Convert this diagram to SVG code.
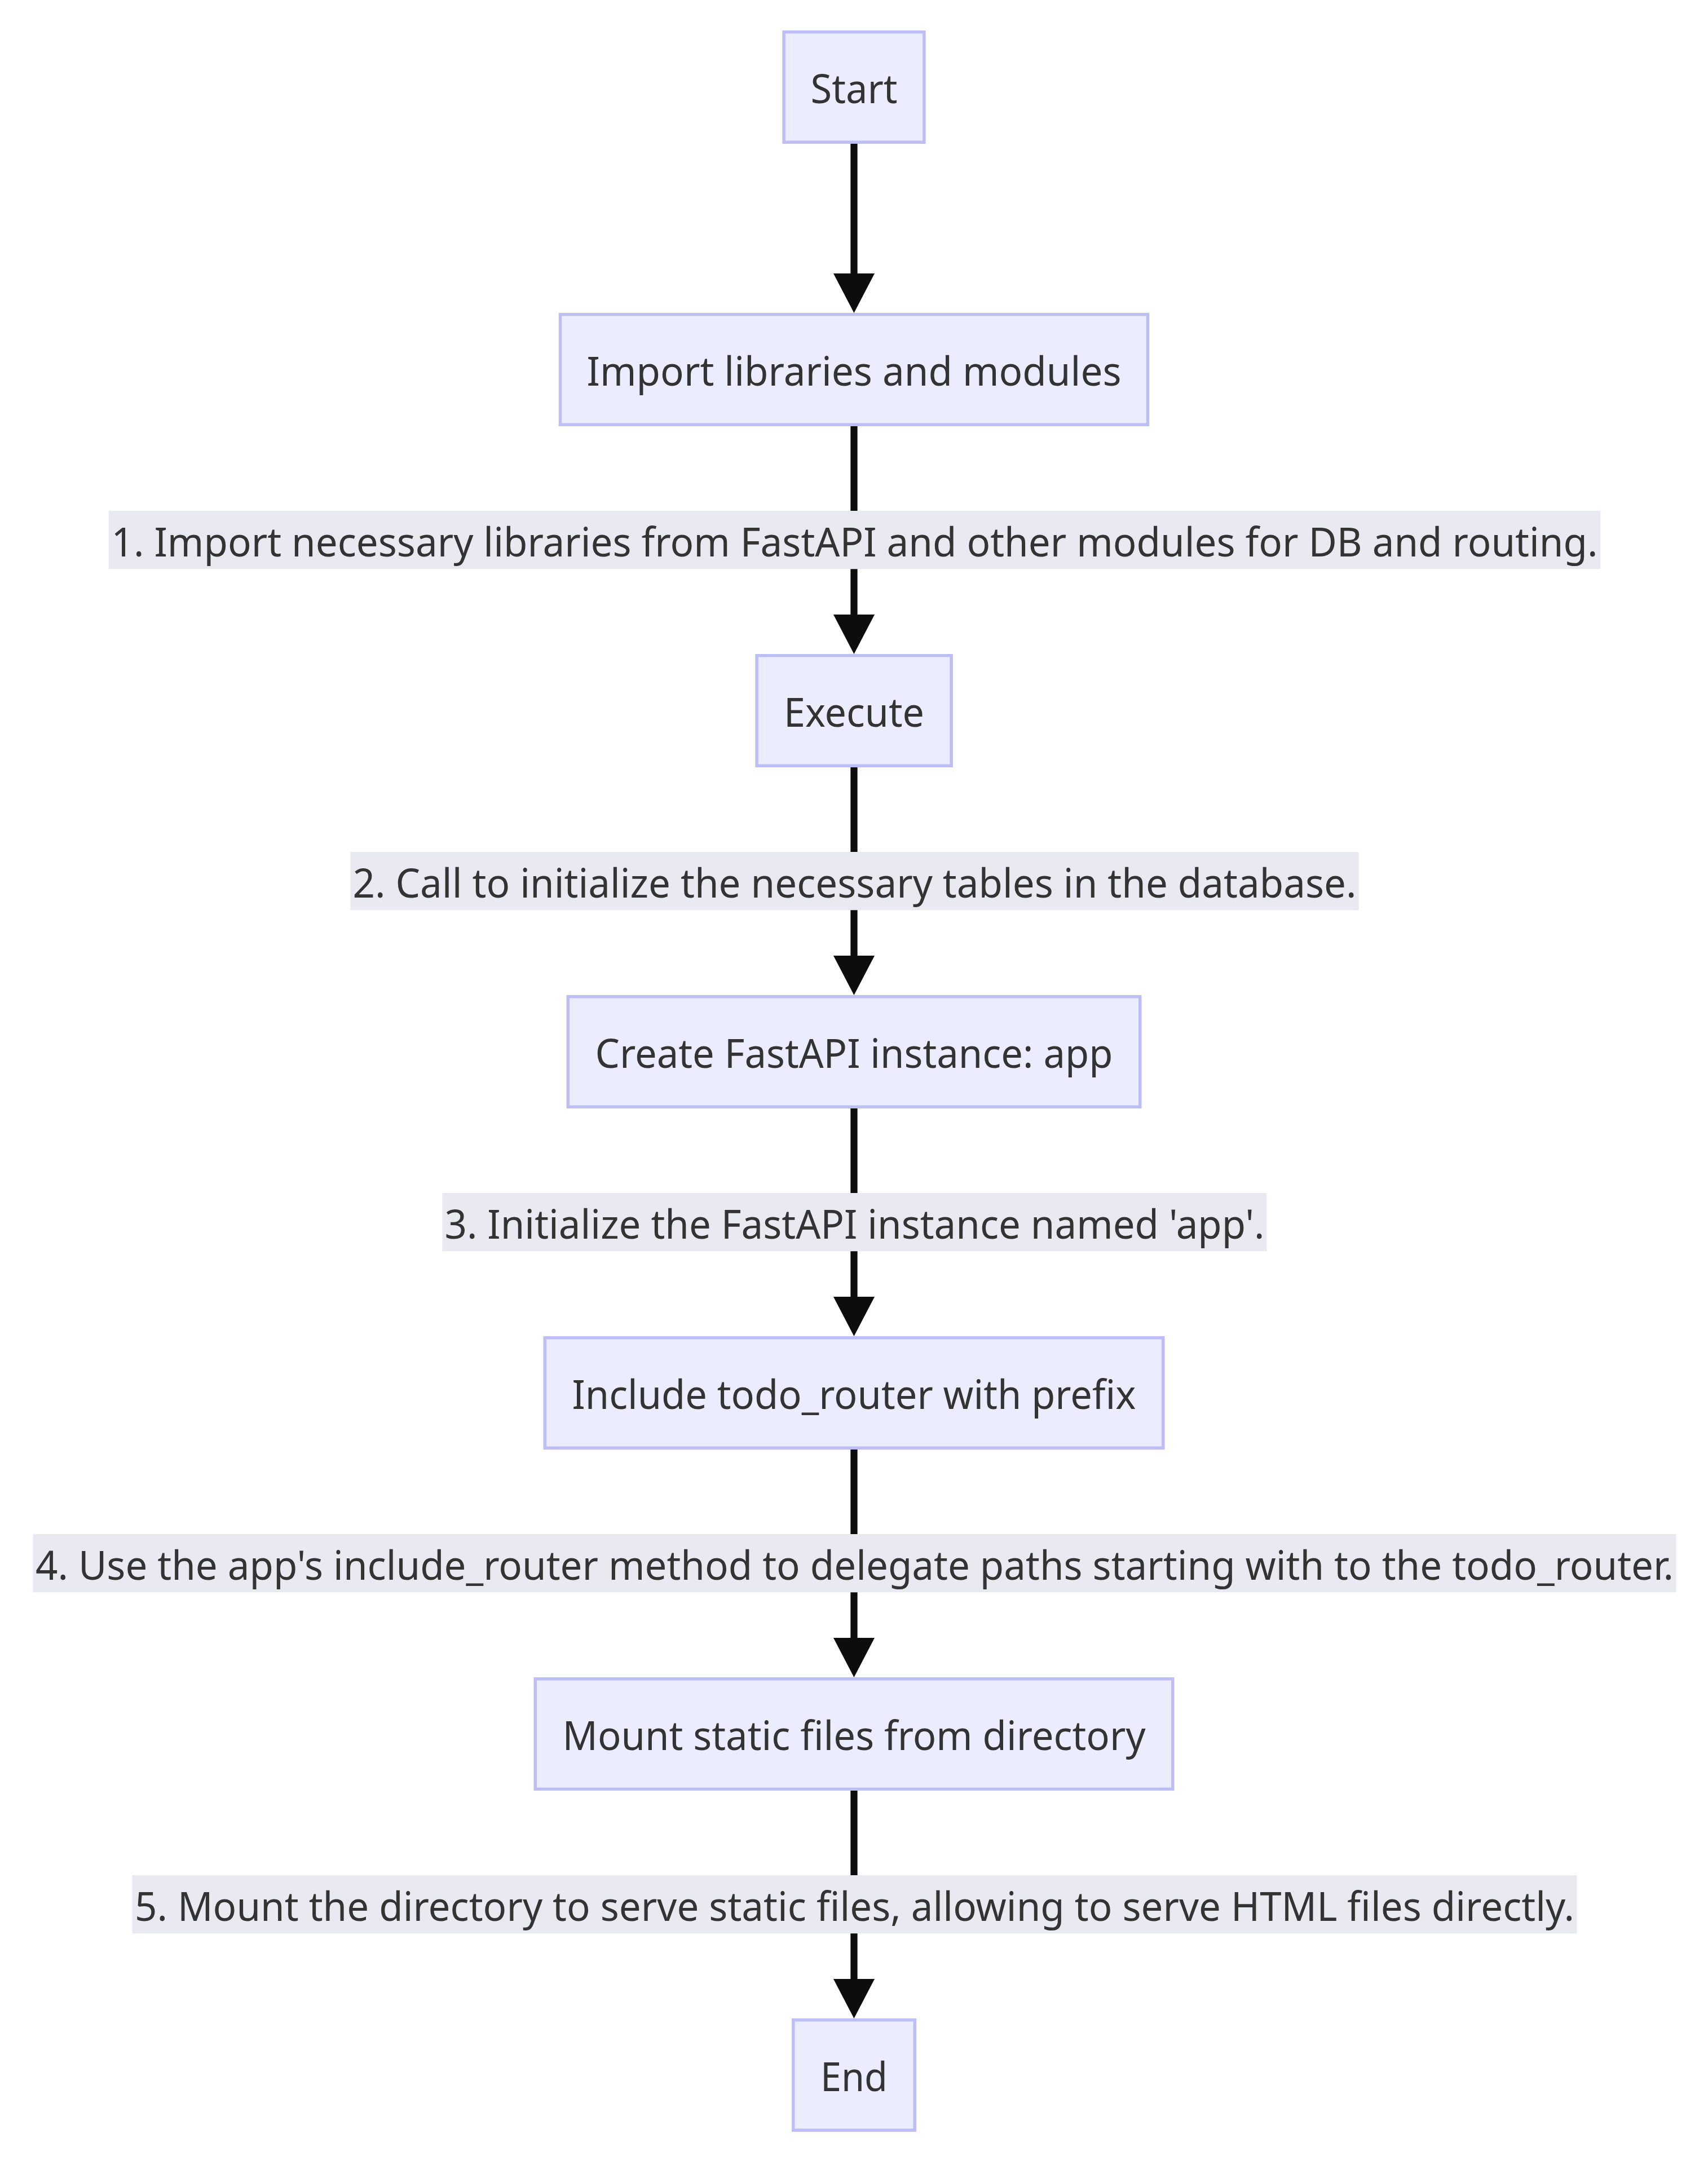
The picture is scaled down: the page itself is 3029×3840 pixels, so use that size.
<svg xmlns="http://www.w3.org/2000/svg" width="3029" height="3840" viewBox="0 0 3029 3840">
  <style>
    .node rect { fill: #ECECFF; stroke: #BEBEF6; stroke-width: 5.5; }
    .node text, .label text { font-family: "Noto Sans", "Open Sans", sans-serif; font-size: 72px; fill: #333333; text-anchor: middle; }
    .edge { fill: none; stroke: #0D0D0D; stroke-width: 12.3; }
    .label rect { fill: #E9E9F1; }
  </style>
  <defs>
    <marker id="arrow" markerUnits="userSpaceOnUse" viewBox="0 0 70 73" markerWidth="70" markerHeight="73" refX="10" refY="36.5" orient="auto">
      <path d="M0,0 L70,36.5 L0,73 Z" fill="#0D0D0D"/>
    </marker>
  </defs>
  <rect x="0" y="0" width="3029" height="3840" fill="#FFFFFF"/>

  <g id="connectors">
    <path class="edge" d="M1514.5,255 L1514.5,495" marker-end="url(#arrow)"/>
    <path class="edge" d="M1514.5,756 L1514.5,1100" marker-end="url(#arrow)"/>
    <path class="edge" d="M1514.5,1361 L1514.5,1705" marker-end="url(#arrow)"/>
    <path class="edge" d="M1514.5,1966 L1514.5,2310" marker-end="url(#arrow)"/>
    <path class="edge" d="M1514.5,2571 L1514.5,2915" marker-end="url(#arrow)"/>
    <path class="edge" d="M1514.5,3176 L1514.5,3520" marker-end="url(#arrow)"/>
  </g>

  <g id="edge-labels">
    <g class="label" id="label-1">
      <rect x="192.7" y="906" width="2645.6" height="103.3"/>
      <text x="1515.5" y="986.7" textLength="2636" lengthAdjust="spacingAndGlyphs">1. Import necessary libraries from FastAPI and other modules for DB and routing.</text>
    </g>
    <g class="label" id="label-2">
      <rect x="621.5" y="1511" width="1788" height="103.3"/>
      <text x="1515.5" y="1591.7" textLength="1780" lengthAdjust="spacingAndGlyphs">2. Call to initialize the necessary tables in the database.</text>
    </g>
    <g class="label" id="label-3">
      <rect x="784.5" y="2116" width="1462" height="103.3"/>
      <text x="1515.5" y="2196.7" textLength="1454" lengthAdjust="spacingAndGlyphs">3. Initialize the FastAPI instance named 'app'.</text>
    </g>
    <g class="label" id="label-4">
      <rect x="58.5" y="2721" width="2914" height="103.3"/>
      <text x="1515.5" y="2801.7" textLength="2905" lengthAdjust="spacingAndGlyphs">4. Use the app's include_router method to delegate paths starting with to the todo_router.</text>
    </g>
    <g class="label" id="label-5">
      <rect x="234.5" y="3326" width="2562" height="103.3"/>
      <text x="1515.5" y="3406.7" textLength="2553" lengthAdjust="spacingAndGlyphs">5. Mount the directory to serve static files, allowing to serve HTML files directly.</text>
    </g>
  </g>

  <g class="node" id="node-start">
    <rect x="1390.1" y="56.75" width="248.8" height="195.5"/>
    <text x="1514.5" y="183" textLength="154" lengthAdjust="spacingAndGlyphs">Start</text>
  </g>
  <g class="node" id="node-import">
    <rect x="993.5" y="557.75" width="1042" height="195.5"/>
    <text x="1514.5" y="684" textLength="948" lengthAdjust="spacingAndGlyphs">Import libraries and modules</text>
  </g>
  <g class="node" id="node-execute">
    <rect x="1342.1" y="1162.75" width="345.1" height="195.5"/>
    <text x="1514.5" y="1289" textLength="249" lengthAdjust="spacingAndGlyphs">Execute</text>
  </g>
  <g class="node" id="node-create">
    <rect x="1007.25" y="1767.75" width="1014.5" height="195.5"/>
    <text x="1514.5" y="1894" textLength="918" lengthAdjust="spacingAndGlyphs">Create FastAPI instance: app</text>
  </g>
  <g class="node" id="node-include">
    <rect x="966.25" y="2372.75" width="1096.5" height="195.5"/>
    <text x="1514.5" y="2499" textLength="1000" lengthAdjust="spacingAndGlyphs">Include todo_router with prefix</text>
  </g>
  <g class="node" id="node-mount">
    <rect x="949.25" y="2977.75" width="1130.5" height="195.5"/>
    <text x="1514.5" y="3104" textLength="1034" lengthAdjust="spacingAndGlyphs">Mount static files from directory</text>
  </g>
  <g class="node" id="node-end">
    <rect x="1406.75" y="3582.75" width="215.5" height="195.5"/>
    <text x="1514.5" y="3709" textLength="119" lengthAdjust="spacingAndGlyphs">End</text>
  </g>
</svg>
